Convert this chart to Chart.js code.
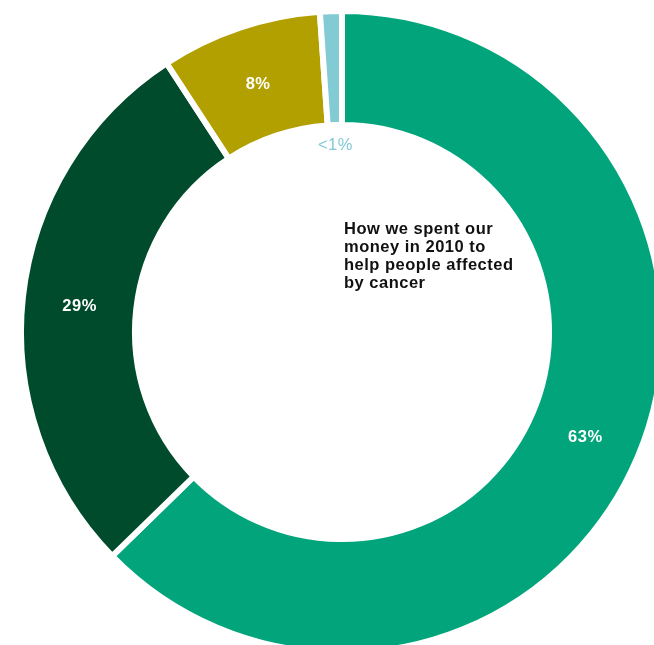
<!DOCTYPE html>
<html>
<head>
<meta charset="utf-8">
<script src="https://cdn.jsdelivr.net/npm/chart.js@4.4.1/dist/chart.umd.min.js"></script>
<style>
  html, body { margin: 0; padding: 0; background: #ffffff; overflow: hidden; }
  body { width: 654px; height: 645px; position: relative; }
  #wrap { position: absolute; left: 0; top: -10px; width: 684px; height: 684px; }
</style>
</head>
<body>
<div id="wrap"><canvas id="spendChart"></canvas></div>
<script>
// Spending shares, clockwise from 12 o'clock
const categories = ["Largest share", "Second share", "Third share", "Smallest share"];
const shareValues = [62.7, 28.1, 8.1, 1.1];
const shareLabels = ["63%", "29%", "8%", "<1%"];
const titleLines = ["How we spent our", "money in 2010 to", "help people affected", "by cancer"];

const sliceColors = ["#02a57b", "#004b2b", "#b2a000", "#82cad4"];

// Labels on the ring (the tiny slice gets its label inside the hole)
const sliceLabels = {
  id: "sliceLabels",
  afterDatasetsDraw(chart) {
    const ctx = chart.ctx;
    const arcs = chart.getDatasetMeta(0).data;
    ctx.save();
    ctx.textAlign = "center";
    ctx.textBaseline = "middle";
    ctx.letterSpacing = "0.5px";
    arcs.forEach((arc, i) => {
      const p = arc.getProps(["x", "y", "startAngle", "endAngle", "innerRadius", "outerRadius"], true);
      const mid = (p.startAngle + p.endAngle) / 2;
      let r = (p.innerRadius + p.outerRadius) / 2;
      if (i === arcs.length - 1) {
        r = p.innerRadius - 17;
        ctx.fillStyle = sliceColors[i];
        ctx.font = "16.5px 'Liberation Sans', Arial, sans-serif";
      } else {
        ctx.fillStyle = "#ffffff";
        ctx.font = "bold 16.5px 'Liberation Sans', Arial, sans-serif";
      }
      ctx.fillText(shareLabels[i], p.x + Math.cos(mid) * r, p.y + Math.sin(mid) * r + 3);
    });
    ctx.restore();
  },
};

// Title text inside the hole
const centerTitle = {
  id: "centerTitle",
  afterDraw(chart) {
    const ctx = chart.ctx;
    const arc = chart.getDatasetMeta(0).data[0];
    ctx.save();
    ctx.fillStyle = "#111111";
    ctx.font = "bold 16.5px 'Liberation Sans', Arial, sans-serif";
    ctx.letterSpacing = "0.5px";
    ctx.textAlign = "left";
    ctx.textBaseline = "alphabetic";
    titleLines.forEach((line, i) => {
      ctx.fillText(line, arc.x + 2, arc.y - 98.5 + i * 18.2);
    });
    ctx.restore();
  },
};

new Chart(document.getElementById("spendChart"), {
  type: "doughnut",
  data: {
    labels: categories,
    datasets: [
      {
        data: shareValues,
        backgroundColor: sliceColors,
        borderColor: "#ffffff",
        borderWidth: 6,
        borderJoinStyle: "miter",
        hoverOffset: 0,
      },
    ],
  },
  options: {
    responsive: true,
    maintainAspectRatio: false,
    animation: false,
    radius: 321,
    cutout: "64.5%",
    layout: { padding: 0 },
    events: [],
    plugins: {
      legend: { display: false },
      tooltip: { enabled: false },
    },
  },
  plugins: [sliceLabels, centerTitle],
});
</script>
</body>
</html>
